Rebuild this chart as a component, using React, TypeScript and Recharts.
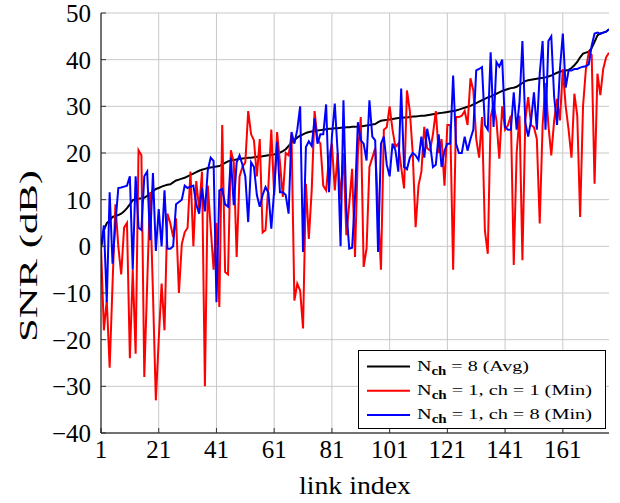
import React from 'react';
import { LineChart, Line, XAxis, YAxis, CartesianGrid, Legend } from 'recharts';

const snrAvg: number[] = [
  -0.5, 3.5, 5, 5.5, 6.3, 6.5, 6.7, 7, 7.5, 8.2,
  9, 9.9, 10.1, 10.2, 10.3, 10.4, 10.8, 11.2, 11.8, 12.3,
  12.5, 12.8, 13, 13.2, 13.3, 13.7, 14.1, 14.3, 14.5, 14.7,
  15, 15.3, 15.6, 15.9, 16.2, 16.4, 16.6, 16.8, 16.9, 17,
  17.1, 17.2, 17.5, 17.9, 18.2, 18.4, 18.5, 18.6, 18.7, 18.8,
  18.9, 19, 19, 19.1, 19.2, 19.2, 19.3, 19.4, 19.5, 19.6,
  19.7, 19.9, 20.1, 20.4, 20.8, 21.5, 22.2, 22.8, 23.3, 23.7,
  24, 24.3, 24.5, 24.6, 24.7, 24.8, 24.9, 25, 25.1, 25.2,
  25.2, 25.3, 25.3, 25.4, 25.4, 25.5, 25.5, 25.6, 25.6, 25.7,
  25.7, 25.8, 25.9, 26, 26.1, 26.2, 26.6, 26.9, 27, 27.1,
  27.2, 27.3, 27.4, 27.5, 27.5, 27.6, 27.6, 27.7, 27.8, 27.8,
  27.9, 28, 28, 28.1, 28.2, 28.3, 28.4, 28.5, 28.6, 28.7,
  28.8, 28.9, 29, 29.1, 29.3, 29.5, 29.7, 29.9, 30.1, 30.4,
  30.7, 31, 31.3, 31.6, 31.9, 32.1, 32.4, 32.7, 33, 33.3,
  33.5, 33.7, 33.9, 34, 34.2, 34.6, 35, 35.4, 35.6, 35.7,
  35.8, 35.9, 36, 36.1, 36.2, 36.4, 36.6, 36.9, 37.2, 37.4,
  37.6, 37.7, 37.8, 38.2, 38.8, 39.5, 40.5, 41.3, 41.5, 41.7,
  42.5, 43.8, 45.2, 45.6, 45.8, 46, 46.5,
];

const snrMinCh1: number[] = [
  0, -18, -11.5, -26, -8, 9, 0, -6, 4, 5,
  -24, -5, -23, 20.6, 19.5, -28, -8, 11.6, -10, -33,
  -20, -8, -18, 7, 5, 2, 6, -10, 0.5, 3,
  4, 16, 0, 14, 8, 16, -30, 13, 4, -5,
  5, -13, 26, -5.5, -6, 20.6, 18, -2.3, 15, 17,
  18, 29, 24, 22.7, 15, 23, 3, 3.5, 13, 25,
  11, 24.5, 18, 10.6, 20, 19.5, 24, -11.6, -8, -9.5,
  -17.6, 13.4, 1.6, 12, 29, 23, 22, 13, 12, 19,
  22, 12, 20, 10, 20, 2.4, 9, 16.6, -2.3, 20,
  27.7, -4.4, -0.5, 17, 19, 21, 8, -5, 25, 25.5,
  30, 25, 21.3, 22, 17, 12.4, 33.4, 29, 20, 4.1,
  13, 16, 25.6, 21, 20.5, 24, 29, 20, 23, 13,
  26, 26, -5, 27.7, 27.7, 28, 29, 26, 36, 33.4,
  23, 19, 27.7, 3.4, -1.6, 27.7, 30.5, 27, 18.8, 30,
  25, 26, 28, -4, 20, 28, -3, 27, 32, 26,
  25.5, 23, 4.9, 26, 35, 26, 19.5, 27, 31.6, 27,
  38, 30, 25, 19, 32.7, 28, 6.3, 30, 38, 41.6,
  41, 13.4, 37, 32.4, 38, 40.5, 41.5,
];

const snrMinCh8: number[] = [
  0, 4.5, -12, 11.6, -3.7, 5, 12.5, 12.6, 12.8, 13,
  15, -5, 15, 4, 3.5, 15, 16, 1.3, 15.7, -1,
  8, 0, 12, -0.5, -0.5, 0, 9, 9.5, 10, 13,
  12.5, 12.8, 13, 9, 7, 12.6, 7.5, 16.3, 19, 18.3,
  -12, 12, 12.3, 9, 8.5, 19, 8.8, 18, 19.5, 17.5,
  15, 5.2, 18, 17, 11, 8.5, 11, 12.7, 11.5, 3.8,
  12, 22.4, 11.6, 11.6, 11, 7, 24.5, 22, 25, 30,
  -1.2, 21.3, 22.5, 21.5, 27.4, 22, 24, 24, 30.4, 11.6,
  23.5, 30.6, 20, 0, 31.3, 8, -0.5, -0.3, 10.5, 26.6,
  22.7, 22, 18.4, 31.3, 23.5, 22.7, -1.2, 22, 23.5, 17.5,
  15, 22, 20.6, 16, 33.8, 17, 16.5, 19, 20, 19.5,
  18.5, 23.5, 19, 25.2, 22, 17, 17.5, 24, 17, 20.5,
  22, 22, 36.6, 22, 20, 20, 23.5, 20.5, 23, 25,
  37.7, 38, 38.4, 26, 25, 41.6, 25.6, 39.5, 38.5, 40,
  25.5, 25, 25, 33, 25, 31, 44, 26.5, 23.5, 27,
  33, 25, 37, 44, 25, 44, 45, 32, 26, 38,
  45.6, 34, 37.7, 37.7, 38, 38, 38.3, 38.5, 38.6, 39,
  43, 45.6, 45.8, 45.5, 45.8, 46, 46.5,
];

const xTicks: number[] = [1, 21, 41, 61, 81, 101, 121, 141, 161];
const yTicks: number[] = [-40, -30, -20, -10, 0, 10, 20, 30, 40, 50];

const legendItems = [
  { key: 'avg', color: '#000000', main: 'N', sub: 'ch', rest: ' = 8 (Avg)', len: 112 },
  { key: 'ch1', color: '#ff0000', main: 'N', sub: 'ch', rest: ' = 1, ch = 1 (Min)', len: 175 },
  { key: 'ch8', color: '#0000ff', main: 'N', sub: 'ch', rest: ' = 1, ch = 8 (Min)', len: 175 },
];

const data = snrAvg.map((v, i) => ({
  link: i + 1,
  avg: v,
  ch1: snrMinCh1[i],
  ch8: snrMinCh8[i],
}));

const FONT = '"Liberation Serif", "DejaVu Serif", serif';
const fmt = (v: number) => (v < 0 ? '\u2212' + Math.abs(v) : String(v));

const LegendBox = () => (
  <svg width={248} height={79} style={{ display: 'block' }}>
    <rect x={0.5} y={0.5} width={247} height={78} fill="#fff" stroke="#000" strokeWidth={1} />
    {legendItems.map((it, i) => {
      const cy = 16.5 + i * 24.2;
      return (
        <g key={it.key}>
          <line x1={9} x2={52} y1={cy} y2={cy} stroke={it.color} strokeWidth={2} />
          <text x={59} y={cy + 4.5} fontFamily={FONT} fontSize={15.5} fill="#000"
            textLength={it.len} lengthAdjust="spacingAndGlyphs">
            {it.main}
            <tspan fontSize={11.5} fontWeight="bold" dy={4}>{it.sub}</tspan>
            <tspan dy={-4} style={{ whiteSpace: 'pre' }}>{it.rest}</tspan>
          </text>
        </g>
      );
    })}
  </svg>
);

const YLabel = (props: any) => {
  const cy = 256;
  return (
    <text x={28} y={cy} transform={`rotate(-90, 28, ${cy})`} textAnchor="middle" dominantBaseline="central"
      fontFamily={FONT} fontSize={25} fill="#000" textLength={172} lengthAdjust="spacingAndGlyphs">
      SNR (dB)
    </text>
  );
};

const XLabel = (props: any) => {
  const vb = props.viewBox || { x: 101, width: 508 };
  const cx = vb.x + vb.width / 2;
  return (
    <text x={cx} y={494} textAnchor="middle" fontFamily={FONT} fontSize={25} fill="#000"
      textLength={112} lengthAdjust="spacingAndGlyphs">
      link index
    </text>
  );
};

export default function App() {
  return (
    <div style={{ position: 'absolute', left: 0, top: 0, width: 620, height: 503, background: '#fff' }}>
      <LineChart width={620} height={503} data={data} margin={{ top: 13, right: 11, bottom: 0, left: 0 }}>
        <CartesianGrid stroke="#c8c8c8" strokeWidth={1} vertical horizontal
          verticalValues={xTicks} horizontalValues={yTicks} />
        <XAxis dataKey="link" type="number" domain={[1, 177]} ticks={xTicks} interval={0}
          allowDataOverflow height={70} axisLine={{ stroke: '#000', strokeWidth: 1 }}
          tickLine={{ stroke: '#333' }} tickSize={-5} tickMargin={12}
          tick={{ fill: '#000', fontSize: 25, fontFamily: FONT }} tickFormatter={fmt}
          label={<XLabel />} />
        <XAxis xAxisId="top" orientation="top" type="number" domain={[1, 177]} ticks={xTicks}
          interval={0} allowDataOverflow height={0} axisLine={{ stroke: '#000' }}
          tickLine={{ stroke: '#333' }} tickSize={-5} tick={false} />
        <YAxis type="number" domain={[-40, 50]} ticks={yTicks} interval={0} allowDataOverflow
          width={101} axisLine={{ stroke: '#000', strokeWidth: 1 }} tickLine={{ stroke: '#333' }}
          tickSize={-5} tickMargin={15} tick={{ fill: '#000', fontSize: 25, fontFamily: FONT }}
          tickFormatter={fmt} label={<YLabel />} />
        <YAxis yAxisId="right" orientation="right" type="number" domain={[-40, 50]} ticks={yTicks}
          interval={0} allowDataOverflow width={0} axisLine={{ stroke: '#000' }}
          tickLine={{ stroke: '#333' }} tickSize={-5} tick={false} />
        <Line type="linear" dataKey="avg" name="N_ch = 8 (Avg)" stroke="#000000" strokeWidth={2}
          dot={false} isAnimationActive={false} />
        <Line type="linear" dataKey="ch1" name="N_ch = 1, ch = 1 (Min)" stroke="#ff0000" strokeWidth={2}
          dot={false} isAnimationActive={false} />
        <Line type="linear" dataKey="ch8" name="N_ch = 1, ch = 8 (Min)" stroke="#0000ff" strokeWidth={2}
          dot={false} isAnimationActive={false} />
        <Legend layout="vertical" align="center" verticalAlign="middle" content={<LegendBox />}
          wrapperStyle={{ left: 358, top: 350, width: 248, height: 79, margin: 0, padding: 0 }} />
      </LineChart>
    </div>
  );
}
